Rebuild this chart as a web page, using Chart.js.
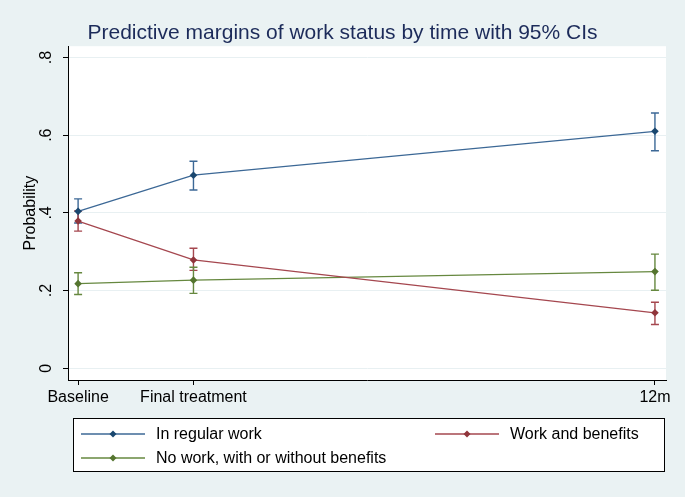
<!DOCTYPE html>
<html><head><meta charset="utf-8">
<script src="https://cdn.jsdelivr.net/npm/chart.js@4.4.0/dist/chart.umd.min.js"></script>
<style>html,body{margin:0;padding:0;background:#eaf2f3;}canvas{display:block;}</style>
</head><body>
<canvas id="c" width="685" height="497"></canvas>
<script>
// ---- data ----
const timePoints = [0, 2.4, 12];
const timeLabels = ['Baseline', 'Final treatment', '12m'];
const yTicks = [0, 0.2, 0.4, 0.6, 0.8];
const seriesNames = ['In regular work', 'Work and benefits', 'No work, with or without benefits'];
const regularWork = [0.404, 0.497, 0.610];
const regularWorkLow = [0.374, 0.459, 0.560];
const regularWorkHigh = [0.436, 0.533, 0.657];
const workBenefits = [0.379, 0.279, 0.143];
const workBenefitsLow = [0.353, 0.252, 0.113];
const workBenefitsHigh = [0.405, 0.309, 0.170];
const noWork = [0.218, 0.227, 0.249];
const noWorkLow = [0.190, 0.193, 0.201];
const noWorkHigh = [0.246, 0.260, 0.294];

const markerColors = ['#1a476f', '#90353b', '#55752f'];
const lineColors = ['#3c6896', '#a5474f', '#66883f'];
const FONT = "'Liberation Sans', Arial, sans-serif";

function mk(i, vals, lo, hi) {
  return {
    label: seriesNames[i],
    data: timePoints.map((t, j) => ({x: t, y: vals[j]})),
    ciLow: lo, ciHigh: hi,
    borderColor: lineColors[i], backgroundColor: markerColors[i],
    pointBackgroundColor: markerColors[i], pointBorderColor: markerColors[i],
    markerColor: markerColors[i],
    borderWidth: 1.3, pointStyle: 'rectRot', pointRadius: 3.8, pointBorderWidth: 0,
    tension: 0, fill: false
  };
}

const bgPlugin = {
  id: 'bg',
  beforeDraw(chart) {
    const {ctx, chartArea: a} = chart;
    ctx.save();
    ctx.fillStyle = '#eaf2f3';
    ctx.fillRect(0, 0, chart.width, chart.height);
    ctx.fillStyle = '#ffffff';
    ctx.fillRect(a.left, a.top, a.right - a.left, a.bottom - a.top);
    ctx.restore();
  }
};

const ciPlugin = {
  id: 'ci',
  beforeDatasetsDraw(chart) {
    const ctx = chart.ctx, xs = chart.scales.x, ys = chart.scales.y;
    chart.data.datasets.forEach(ds => {
      ctx.save();
      ctx.strokeStyle = ds.borderColor;
      ctx.lineWidth = 1.4;
      ds.ciLow.forEach((lo, j) => {
        const x = xs.getPixelForValue(ds.data[j].x);
        const y1 = ys.getPixelForValue(lo), y2 = ys.getPixelForValue(ds.ciHigh[j]);
        ctx.beginPath();
        ctx.moveTo(x, y1); ctx.lineTo(x, y2);
        ctx.moveTo(x - 4, y1); ctx.lineTo(x + 4, y1);
        ctx.moveTo(x - 4, y2); ctx.lineTo(x + 4, y2);
        ctx.stroke();
      });
      ctx.restore();
    });
  }
};

const legendPlugin = {
  id: 'stataLegend',
  afterDraw(chart) {
    const ctx = chart.ctx;
    const box = {l: 73.5, t: 418.5, r: 664.5, b: 471.5};
    const pos = [{x: 81, y: 434}, {x: 435, y: 434}, {x: 81, y: 458}];
    ctx.save();
    ctx.fillStyle = '#ffffff';
    ctx.fillRect(box.l, box.t, box.r - box.l, box.b - box.t);
    ctx.strokeStyle = '#000000';
    ctx.lineWidth = 1;
    ctx.strokeRect(box.l, box.t, box.r - box.l, box.b - box.t);
    chart.data.datasets.forEach((ds, i) => {
      const p = pos[i];
      ctx.strokeStyle = ds.borderColor;
      ctx.lineWidth = 1.3;
      ctx.beginPath(); ctx.moveTo(p.x, p.y); ctx.lineTo(p.x + 64, p.y); ctx.stroke();
      ctx.fillStyle = ds.markerColor;
      const cx = p.x + 32, r = 3.5;
      ctx.beginPath();
      ctx.moveTo(cx - r, p.y); ctx.lineTo(cx, p.y - r); ctx.lineTo(cx + r, p.y); ctx.lineTo(cx, p.y + r);
      ctx.closePath(); ctx.fill();
      ctx.fillStyle = '#000000';
      ctx.font = '16px ' + FONT;
      ctx.textBaseline = 'middle';
      ctx.textAlign = 'left';
      ctx.fillText(ds.label, p.x + 75, p.y + 1);
    });
    ctx.restore();
  }
};

new Chart(document.getElementById('c'), {
  type: 'line',
  data: {
    datasets: [
      mk(0, regularWork, regularWorkLow, regularWorkHigh),
      mk(1, workBenefits, workBenefitsLow, workBenefitsHigh),
      mk(2, noWork, noWorkLow, noWorkHigh)
    ]
  },
  options: {
    responsive: false,
    animation: false,
    devicePixelRatio: 1,
    layout: {padding: {left: 0, right: 0, top: 0, bottom: 87}},
    plugins: {
      legend: {display: false},
      tooltip: {enabled: false},
      title: {
        display: true,
        text: 'Predictive margins of work status by time with 95% CIs',
        color: '#1c2b5a',
        font: {family: FONT, size: 21, weight: 'normal'},
        padding: {top: 21, bottom: 0}
      }
    },
    scales: {
      x: {
        type: 'linear', position: 'bottom',
        min: -0.21, max: 12.23,
        afterBuildTicks(s) { s.ticks = timePoints.map(v => ({value: v})); },
        afterFit(s) { s.height = 30; },
        ticks: {
          autoSkip: false, maxRotation: 0, minRotation: 0,
          color: '#000000', padding: 3,
          font: {family: FONT, size: 16},
          callback: (v, i) => timeLabels[i]
        },
        grid: {drawOnChartArea: false, tickLength: 5, tickColor: '#000000', color: '#000000'},
        border: {color: '#000000', width: 1}
      },
      y: {
        type: 'linear', position: 'left',
        min: -0.03, max: 0.829,
        afterBuildTicks(s) { s.ticks = yTicks.map(v => ({value: v})); },
        afterFit(s) { s.width = 68; },
        ticks: {
          autoSkip: false, minRotation: 90, maxRotation: 90, crossAlign: 'center',
          color: '#000000', padding: 10,
          font: {family: FONT, size: 16},
          callback: v => v === 0 ? '0' : v.toFixed(1).replace(/^0/, '')
        },
        grid: {color: '#e8f0f2', lineWidth: 1, tickLength: 5, tickColor: '#000000'},
        border: {color: '#000000', width: 1},
        title: {
          display: true, text: 'Probability', color: '#000000',
          font: {family: FONT, size: 16}, padding: {top: 21, bottom: 0}
        }
      },
      y2: {
        type: 'linear', position: 'right', display: true,
        afterFit(s) { s.width = 19; },
        ticks: {display: false},
        grid: {display: false, drawTicks: false, drawOnChartArea: false},
        border: {display: false}
      }
    }
  },
  plugins: [bgPlugin, ciPlugin, legendPlugin]
});
</script>
</body></html>
